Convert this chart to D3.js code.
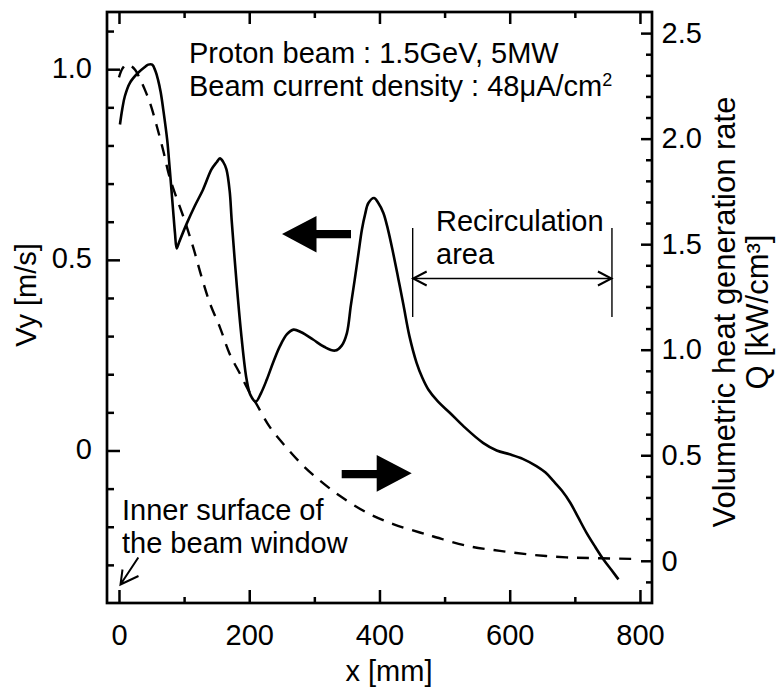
<!DOCTYPE html>
<html>
<head>
<meta charset="utf-8">
<script src="https://cdn.jsdelivr.net/npm/d3@7"></script>
<style>
  html, body { margin: 0; padding: 0; background: #fff; }
  svg text { font-family: "Liberation Sans", Arial, sans-serif; fill: #000; }
</style>
</head>
<body>
<svg id="chart" width="778" height="691"></svg>
<script>
// ---- data ----
// Vy [m/s] (solid, left axis): x [mm]
const vyX = [1.5,5,9,17,29,40,45,51,56,60,64,68,74,78,83,86,88.6,92,104,116,129,142,150,155,160,165,170,173,181,188,196,202,210,218,227,237,247,258,268,280,298,315,332,342,350,356,362,368,373,378,383,391.6,398,406,413,421,429,437,446,457,466,475,490,508,530,559,580,600,620,641,655,667,680,693,705,718,731,744,756,767];
const vyV = [0.855,0.895,0.929,0.965,0.99,1.006,1.012,1.012,0.995,0.972,0.94,0.894,0.815,0.737,0.632,0.57,0.530,0.545,0.595,0.64,0.684,0.737,0.756,0.766,0.757,0.737,0.68,0.605,0.431,0.30,0.186,0.145,0.128,0.15,0.186,0.232,0.273,0.305,0.317,0.31,0.291,0.272,0.262,0.275,0.308,0.38,0.448,0.52,0.579,0.62,0.649,0.662,0.65,0.623,0.58,0.518,0.45,0.38,0.30,0.23,0.19,0.16,0.128,0.099,0.062,0.02,0.0,-0.01,-0.022,-0.041,-0.058,-0.08,-0.105,-0.137,-0.175,-0.216,-0.252,-0.286,-0.313,-0.338];
// Q [kW/cm3] (dashed, right axis)
const qX = [0,5,11,18,25,32,40,48,58,68,78,101,114,127,140,155,170,186,199,211,232,257,283,309,339,380,421,462,483,534,585,636,687,739,800];
const qV = [2.29,2.33,2.35,2.345,2.325,2.285,2.23,2.166,2.06,1.943,1.815,1.611,1.485,1.343,1.217,1.106,0.98,0.885,0.806,0.743,0.632,0.537,0.45,0.379,0.308,0.229,0.174,0.134,0.115,0.071,0.047,0.028,0.016,0.012,0.008];
// ticks
const xMajorTicks = [0,200,400,600,800];
const xMinorTicks = [100,300,500,700];
const yLeftMajor = [0,0.5,1.0];
const yLeftLabels = ["0","0.5","1.0"];
const yLeftMinor = [-0.3,-0.2,-0.1,0.1,0.2,0.3,0.4,0.6,0.7,0.8,0.9,1.1];
const yRightMajor = [0,0.5,1.0,1.5,2.0,2.5];
const yRightLabels = ["0","0.5","1.0","1.5","2.0","2.5"];
const yRightMinor = [-0.1,0.1,0.2,0.3,0.4,0.6,0.7,0.8,0.9,1.1,1.2,1.3,1.4,1.6,1.7,1.8,1.9,2.1,2.2,2.3,2.4];
const recircX = [451, 757];

// ---- layout ----
const L = 107, R = 652, T = 12, B = 603;
const svg = d3.select("#chart");
const x = d3.scaleLinear().domain([-18.4, 818.5]).range([L, R]);
const yL = d3.scaleLinear().domain([-0.4, 1.15]).range([B, T]);
const yR = d3.scaleLinear().domain([-0.2, 2.6]).range([B, T]);
const FS = 29;

function styleAxis(g, labels) {
  g.select(".domain").remove();
  g.selectAll(".tick line").attr("stroke", "#000").attr("stroke-width", 2.5);
  g.selectAll(".tick text").attr("font-size", FS).attr("fill", "#000")
    .attr("font-family", '"Liberation Sans", Arial, sans-serif');
  if (!labels) g.selectAll(".tick text").remove();
}

// bottom axis
const gb = svg.append("g").attr("transform", `translate(0,${B})`)
  .call(d3.axisBottom(x).tickValues(xMajorTicks).tickFormat(d3.format("d")).tickSizeInner(-13).tickSizeOuter(0).tickPadding(21));
styleAxis(gb, true);
const gbm = svg.append("g").attr("transform", `translate(0,${B})`)
  .call(d3.axisBottom(x).tickValues(xMinorTicks).tickSizeInner(-6).tickSizeOuter(0));
styleAxis(gbm, false);
// top axis
const gt = svg.append("g").attr("transform", `translate(0,${T})`)
  .call(d3.axisTop(x).tickValues(xMajorTicks).tickSizeInner(-12).tickSizeOuter(0));
styleAxis(gt, false);
const gtm = svg.append("g").attr("transform", `translate(0,${T})`)
  .call(d3.axisTop(x).tickValues(xMinorTicks).tickSizeInner(-6).tickSizeOuter(0));
styleAxis(gtm, false);
// left axis
const gl = svg.append("g").attr("transform", `translate(${L},0)`)
  .call(d3.axisLeft(yL).tickValues(yLeftMajor).tickFormat((d,i) => yLeftLabels[i]).tickSizeInner(-13).tickSizeOuter(0).tickPadding(15));
styleAxis(gl, true);
gl.selectAll(".tick text").attr("dy", "0.28em");
const glm = svg.append("g").attr("transform", `translate(${L},0)`)
  .call(d3.axisLeft(yL).tickValues(yLeftMinor).tickSizeInner(-7).tickSizeOuter(0));
styleAxis(glm, false);
// right axis
const gr = svg.append("g").attr("transform", `translate(${R},0)`)
  .call(d3.axisRight(yR).tickValues(yRightMajor).tickFormat((d,i) => yRightLabels[i]).tickSizeInner(-11).tickSizeOuter(0).tickPadding(9.5));
styleAxis(gr, true);
const grm = svg.append("g").attr("transform", `translate(${R},0)`)
  .call(d3.axisRight(yR).tickValues(yRightMinor).tickSizeInner(-6).tickSizeOuter(0));
styleAxis(grm, false);

// frame
svg.append("rect").attr("x", L).attr("y", T).attr("width", R - L).attr("height", B - T)
  .attr("fill", "none").attr("stroke", "#000").attr("stroke-width", 2.7);

// curves
const vyData = vyX.map((d, i) => [d, vyV[i]]);
const qData = qX.map((d, i) => [d, qV[i]]);
svg.append("path").datum(qData)
  .attr("d", d3.line().x(d => x(d[0])).y(d => yR(d[1])).curve(d3.curveCatmullRom.alpha(0.5)))
  .attr("fill", "none").attr("stroke", "#000").attr("stroke-width", 2.4).attr("stroke-dasharray", "12,9");
svg.append("path").datum(vyData)
  .attr("d", d3.line().x(d => x(d[0])).y(d => yL(d[1])).curve(d3.curveCatmullRom.alpha(0.5)))
  .attr("fill", "none").attr("stroke", "#000").attr("stroke-width", 2.6).attr("stroke-linejoin", "round");

// axis titles
svg.append("text").attr("x", 389).attr("y", 681).attr("text-anchor", "middle").attr("font-size", FS).text("x [mm]");
svg.append("text").attr("transform", "translate(36,295) rotate(-90)").attr("text-anchor", "middle").attr("font-size", FS).text("Vy [m/s]");
const rt = svg.append("text").attr("transform", "translate(735,312) rotate(-90)").attr("text-anchor", "middle").attr("font-size", 31);
rt.append("tspan").attr("x", 0).attr("y", 0).text("Volumetric heat generation rate");
rt.append("tspan").attr("x", 0).attr("y", 33).text("Q [kW/cm³]");

// annotation text
svg.append("text").attr("x", 189).attr("y", 63).attr("font-size", FS).text("Proton beam : 1.5GeV, 5MW");
const t2 = svg.append("text").attr("x", 189).attr("y", 96).attr("font-size", FS);
t2.append("tspan").text("Beam current density : 48μA/cm");
t2.append("tspan").attr("font-size", 18).attr("dy", -10).text("2");

const rc = svg.append("text").attr("font-size", FS);
rc.append("tspan").attr("x", 436).attr("y", 231).text("Recirculation");
rc.append("tspan").attr("x", 436).attr("y", 264).text("area");

const inn = svg.append("text").attr("font-size", FS);
inn.append("tspan").attr("x", 122).attr("y", 520).text("Inner surface of");
inn.append("tspan").attr("x", 122).attr("y", 553).text("the beam window");

// recirculation bracket
recircX.forEach(v => {
  svg.append("line").attr("x1", x(v)).attr("x2", x(v)).attr("y1", 228).attr("y2", 317)
    .attr("stroke", "#000").attr("stroke-width", 1.4);
});
const ya = 278.5;
svg.append("line").attr("x1", x(recircX[0])).attr("x2", x(recircX[1])).attr("y1", ya).attr("y2", ya)
  .attr("stroke", "#000").attr("stroke-width", 1.6);
const xa0 = x(recircX[0]), xa1 = x(recircX[1]);
svg.append("path").attr("d", `M${xa0+14},${ya-7}L${xa0+0.5},${ya}L${xa0+14},${ya+7}M${xa1-14},${ya-7}L${xa1-0.5},${ya}L${xa1-14},${ya+7}`)
  .attr("fill", "none").attr("stroke", "#000").attr("stroke-width", 2);

// big arrows
svg.append("path").attr("d", "M282,234L316.5,216L316.5,230L351,230L351,238.3L316.5,238.3L316.5,252.5Z").attr("fill", "#000");
svg.append("path").attr("d", "M411.7,473.3L376.7,455L376.7,470L341.7,470L341.7,478.3L376.7,478.3L376.7,491.7Z").attr("fill", "#000");

// small arrow to inner surface
svg.append("path").attr("d", "M138.3,557.5L120.5,584.5M122.5,569.5L120.5,584.5L138.5,576")
  .attr("fill", "none").attr("stroke", "#000").attr("stroke-width", 2);
</script>
</body>
</html>
